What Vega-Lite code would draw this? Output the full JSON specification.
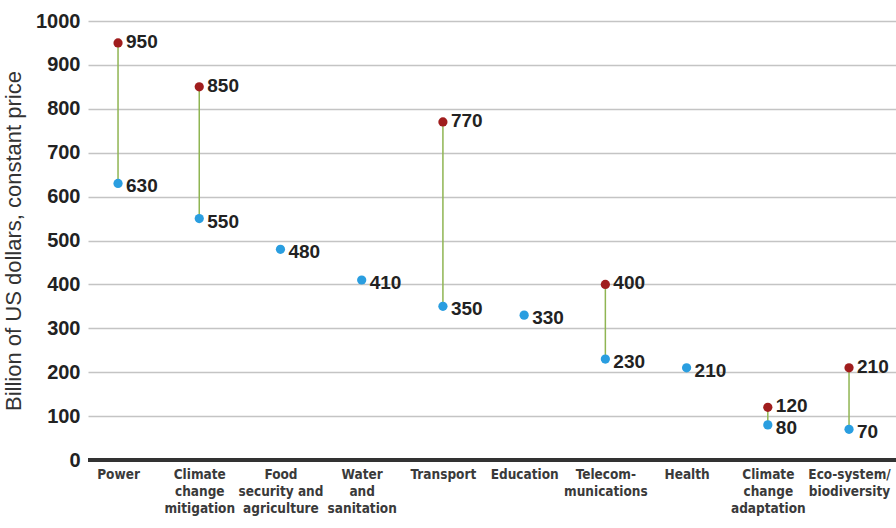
{
  "$schema": "https://vega.github.io/schema/vega-lite/v6.json",
  "width": 808,
  "height": 439,
  "autosize": "none",
  "padding": {"left": 88, "top": 21, "right": 0, "bottom": 68},
  "background": "white",
  "config": {
    "view": {"stroke": null},
    "font": "Roboto",
    "axisY": {
      "grid": true,
      "gridColor": "#c4c4c4",
      "gridWidth": 1.5,
      "domain": false,
      "ticks": false,
      "values": [0, 100, 200, 300, 400, 500, 600, 700, 800, 900, 1000],
      "format": "d",
      "labelFont": "Liberation Sans",
      "labelFontSize": 20,
      "labelFontWeight": "bold",
      "labelColor": "#222222",
      "labelPadding": 8,
      "titleFont": "Liberation Sans",
      "titleFontSize": 22,
      "titleFontWeight": "normal",
      "titleColor": "#333333",
      "titlePadding": 10
    }
  },
  "data": {
    "values": [
      {"cat": "Power", "low": 630, "high": 950},
      {"cat": "Climate|change|mitigation", "low": 550, "high": 850},
      {"cat": "Food|security and|agriculture", "low": 480, "high": null},
      {"cat": "Water|and|sanitation", "low": 410, "high": null},
      {"cat": "Transport", "low": 350, "high": 770},
      {"cat": "Education", "low": 330, "high": null},
      {"cat": "Telecom-|munications", "low": 230, "high": 400},
      {"cat": "Health", "low": 210, "high": null},
      {"cat": "Climate|change|adaptation", "low": 80, "high": 120},
      {"cat": "Eco-system/|biodiversity", "low": 70, "high": 210}
    ]
  },
  "encoding": {
    "x": {
      "field": "cat",
      "type": "nominal",
      "sort": ["Power", "Climate|change|mitigation", "Food|security and|agriculture", "Water|and|sanitation", "Transport", "Education", "Telecom-|munications", "Health", "Climate|change|adaptation", "Eco-system/|biodiversity"],
      "scale": {"type": "point", "padding": 0.474, "align": 0.39},
      "axis": {
        "title": null,
        "labelAngle": 0,
        "labelExpr": "split(datum.label, '|')",
        "labelFont": "DejaVu Sans Condensed, Liberation Sans",
        "labelFontSize": 13.5,
        "labelFontWeight": "bold",
        "labelColor": "#3a3a3a",
        "labelLineHeight": 17,
        "labelPadding": 7,
        "labelBaseline": "top",
        "labelOverlap": false,
        "ticks": false,
        "domain": false,
        "grid": false
      }
    }
  },
  "layer": [
    {
      "mark": {"type": "rule", "color": "#333333", "strokeWidth": 3},
      "encoding": {"x": null, "y": {"datum": 0, "type": "quantitative", "scale": {"domain": [0, 1000]}, "title": "Billion of US dollars, constant price"}}
    },
    {
      "transform": [{"filter": "datum.high != null"}],
      "mark": {"type": "rule", "color": "#8fb552", "strokeWidth": 1.5},
      "encoding": {
        "y": {"field": "low", "type": "quantitative", "title": "Billion of US dollars, constant price"},
        "y2": {"field": "high"}
      }
    },
    {
      "transform": [
        {"fold": ["low", "high"], "as": ["kind", "value"]},
        {"filter": "datum.value != null"}
      ],
      "layer": [
        {
          "mark": {"type": "circle", "size": 85, "opacity": 1},
          "encoding": {
            "y": {"field": "value", "type": "quantitative", "title": "Billion of US dollars, constant price"},
            "color": {
              "field": "kind",
              "type": "nominal",
              "scale": {"domain": ["low", "high"], "range": ["#2a9ee0", "#a01d1d"]},
              "legend": null
            }
          }
        },
        {
          "transform": [{"filter": "datum.kind == 'high'"}],
          "mark": {"type": "text", "align": "left", "baseline": "middle", "dx": 8, "dy": -1, "fontSize": 19, "fontWeight": "bold", "color": "#222222", "font": "Liberation Sans"},
          "encoding": {
            "y": {"field": "value", "type": "quantitative", "title": "Billion of US dollars, constant price"},
            "text": {"field": "value", "type": "quantitative"}
          }
        },
        {
          "transform": [{"filter": "datum.kind == 'low'"}],
          "mark": {"type": "text", "align": "left", "baseline": "middle", "dx": 8, "dy": 3, "fontSize": 19, "fontWeight": "bold", "color": "#222222", "font": "Liberation Sans"},
          "encoding": {
            "y": {"field": "value", "type": "quantitative", "title": "Billion of US dollars, constant price"},
            "text": {"field": "value", "type": "quantitative"}
          }
        }
      ]
    }
  ]
}
